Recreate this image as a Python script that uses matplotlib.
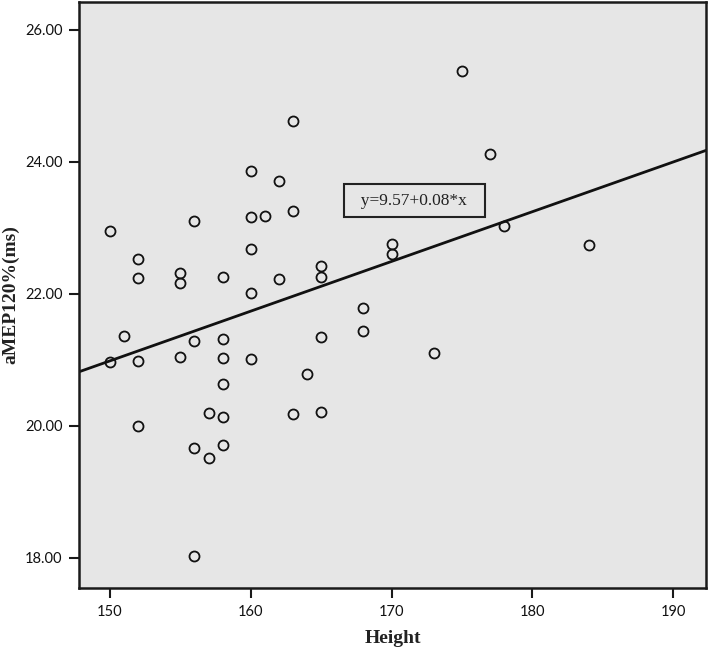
import numpy as np
import matplotlib
matplotlib.use("Agg")
import matplotlib.pyplot as plt

# data
height = [175, 163, 177, 160, 162, 156, 160, 161, 163, 150,
          178, 152, 160, 170, 170, 184, 155, 155, 152, 158,
          162, 165, 165, 160, 168, 168, 151, 156, 158, 165,
          150, 152, 155, 158, 160, 173, 164, 158, 157, 158,
          163, 165, 152, 156, 158, 157, 156]
amep = [25.38, 24.62, 24.12, 23.86, 23.71, 23.11, 23.17, 23.18, 23.26, 22.95,
        23.02, 22.53, 22.68, 22.76, 22.60, 22.74, 22.32, 22.17, 22.24, 22.26,
        22.23, 22.42, 22.26, 22.02, 21.79, 21.44, 21.36, 21.29, 21.32, 21.35,
        20.97, 20.98, 21.05, 21.03, 21.02, 21.10, 20.79, 20.64, 20.20, 20.14,
        20.18, 20.21, 20.00, 19.67, 19.71, 19.52, 18.03]

# fitted line as drawn (label is rounded)
intercept = 9.69
slope = 0.0753
eq_label = "y=9.57+0.08*x"

xticks = [150, 160, 170, 180, 190]
yticks = [18, 20, 22, 24, 26]

fig = plt.figure(figsize=(7.08, 6.52), dpi=100)
ax = fig.add_axes([79 / 708, 64 / 652, 627 / 708, 586 / 652])
ax.set_facecolor("#e6e6e6")

xlim = (147.8, 192.33)
ylim = (17.545, 26.42)
ax.set_xlim(*xlim)
ax.set_ylim(*ylim)

ax.plot(height, amep, "o", ms=7.2, mfc="none", mec="#111111", mew=1.3, zorder=3)

lx = np.array(xlim)
ax.plot(lx, intercept + slope * lx, "-", color="#111111", lw=2.0, zorder=2)

ax.text(171.6, 23.41, "  " + eq_label + "  ", fontsize=12.5, family="Liberation Serif",
        ha="center", va="center", color="#222222",
        bbox=dict(boxstyle="square,pad=0.5", fc="#e6e6e6", ec="#222222", lw=1.5))

for s in ax.spines.values():
    s.set_linewidth(1.8)
    s.set_color("#1a1a1a")

ax.set_xticks(xticks)
ax.set_xticklabels([str(t) for t in xticks], fontsize=10.5, family="Lato", color="#111111")
ax.set_yticks(yticks)
ax.set_yticklabels(["{:.2f}".format(t) for t in yticks], fontsize=10.5, family="Lato", color="#111111")
ax.tick_params(direction="out", length=7, width=1.5, color="#1a1a1a", pad=5)

ax.set_xlabel("Height", fontsize=14, family="Liberation Serif", fontweight="bold",
              color="#222222", labelpad=8)
ax.set_ylabel("aMEP120%(ms)", fontsize=14, family="Liberation Serif", fontweight="bold",
              color="#222222", labelpad=4)

fig.savefig("out.png", dpi=100)
